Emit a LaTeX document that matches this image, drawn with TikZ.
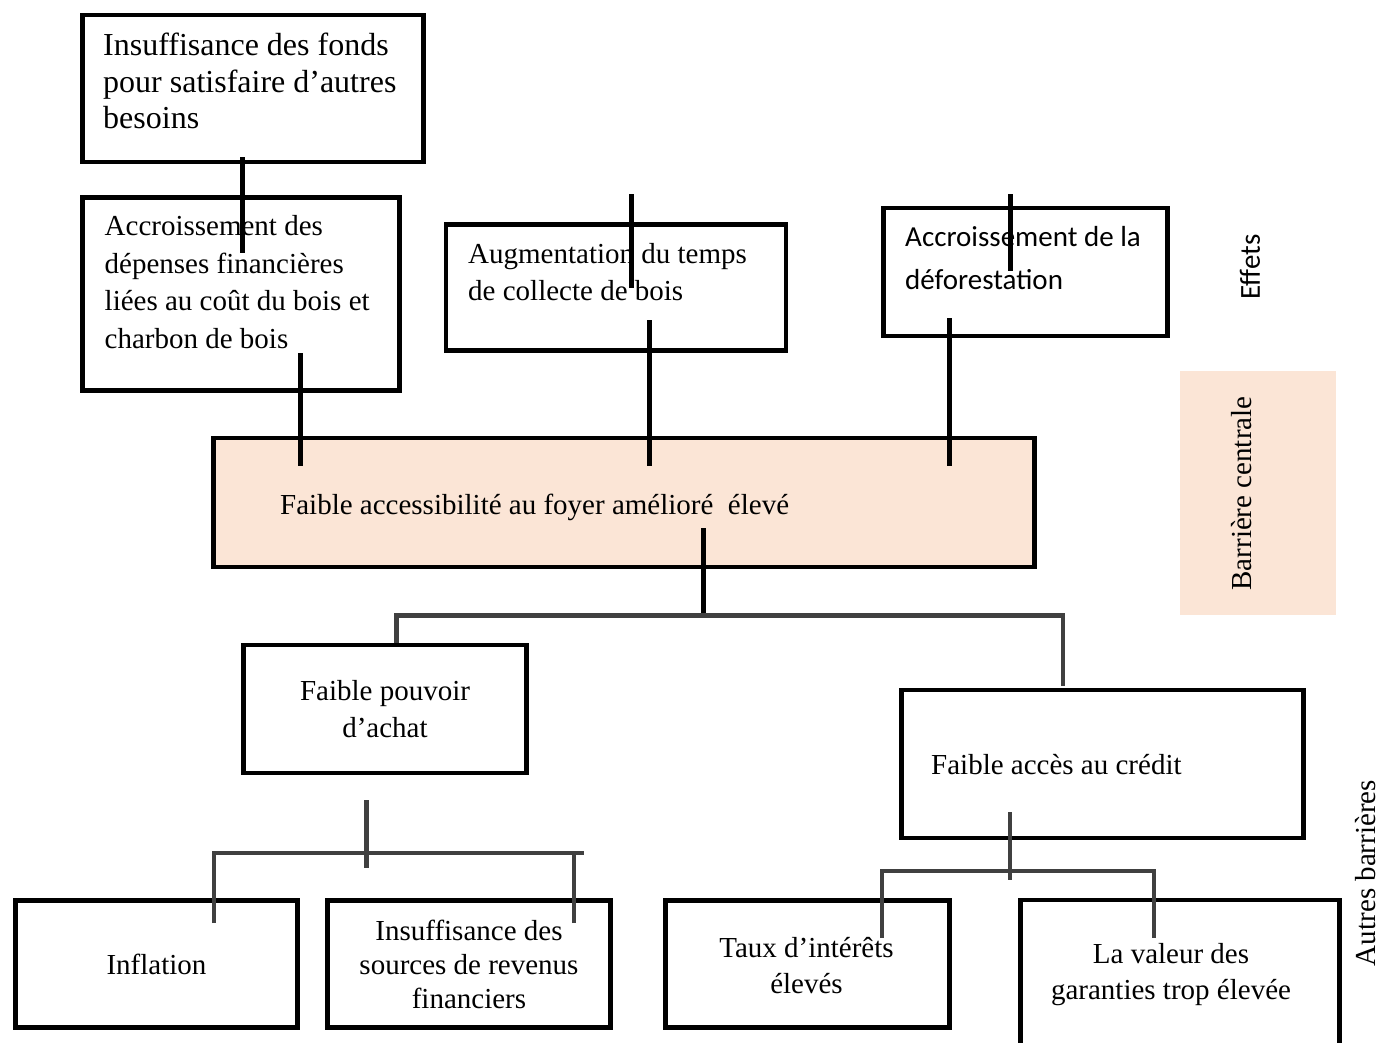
\documentclass[tikz,border=0pt]{standalone}
\usepackage{fontspec}
\setmainfont{Liberation Serif}
\newfontfamily\calibri{Carlito}
\definecolor{peche}{HTML}{FBE5D6}
\definecolor{grisfil}{HTML}{404040}
\tikzset{
  cadre/.style 2 args={draw, line width=4.8pt, minimum width=#1, minimum height=#2, inner sep=0pt, outer sep=0pt},
  texte/.style={inner sep=0pt, font=\fontsize{29}{37}\selectfont},
  trait/.style={line width=5pt},
  branche/.style={draw=grisfil, line width=4.5pt},
}
\begin{document}
\begin{tikzpicture}[x=1pt,y=-1pt]
  \useasboundingbox (0,0) rectangle (1381,1042);
  % bande de la barriere centrale
  \node[fill=peche, minimum width=156pt, minimum height=244pt, inner sep=0pt] (bande) at (1258,493) {};
  % cadres des effets
  \node[cadre={341pt}{147pt}] (fonds) at (253,88.5) {};
  \node[cadre={317pt}{193pt}] (depenses) at (241,294) {};
  \node[cadre={340pt}{126pt}] (temps) at (616,287.5) {};
  \node[cadre={284pt}{128pt}] (defor) at (1025.5,272) {};
  % barriere centrale
  \node[cadre={821pt}{129pt}, fill=peche] (centre) at (624,502.5) {};
  % autres barrieres
  \node[cadre={283pt}{128pt}, texte, align=center] (pouvoir) at (385,709) {Faible pouvoir\\d’achat};
  \node[cadre={402pt}{148pt}] (credit) at (1102.5,764) {};
  \node[cadre={282pt}{127pt}, texte] (inflation) at (156.5,964) {Inflation};
  \node[cadre={283pt}{127pt}, texte, align=center, font=\fontsize{29}{34}\selectfont] (sources) at (469,964) {Insuffisance des\\sources de revenus\\financiers};
  \node[cadre={284pt}{127pt}] (taux) at (807.5,964) {};
  \node[cadre={319pt}{160pt}] (valeur) at (1180,980) {};
  % textes
  \node[texte, anchor=north west, align=left, font=\fontsize{32}{36.5}\selectfont] (t-fonds) at (103,33) {Insuffisance des fonds\\pour satisfaire d’autres\\besoins};
  \node[texte, anchor=north west, align=left, font=\fontsize{29}{37.7}\selectfont] (t-depenses) at (104.5,215) {Accroissement des\\dépenses financières\\liées au coût du bois et\\charbon de bois};
  \node[texte, anchor=north west, align=left] (t-temps) at (468,243) {Augmentation du temps\\de collecte de bois};
  \node[texte, anchor=north west, align=left, font=\calibri\fontsize{29}{43}\selectfont] (t-defor) at (905,226.5) {Accroissement de la\\déforestation};
  \node[texte, anchor=base west] (t-centre) at (280,514) {Faible accessibilité au foyer amélioré\ \ élevé};
  \node[texte, anchor=base west] (t-credit) at (931,774) {Faible accès au crédit};
  \node[texte, align=center, font=\fontsize{29}{36}\selectfont] (t-taux) at (806.5,966) {Taux d’intérêts\\élevés};
  \node[texte, align=center, font=\fontsize{29}{36}\selectfont] (t-valeur) at (1171,975) {La valeur des\\garanties trop élevée};
  \node[texte, rotate=90] (effets) at (1250,267) {\calibri Effets};
  \node[texte, rotate=90] (barriere) at (1242,493.5) {Barrière centrale};
  \node[texte, rotate=90] (autres) at (1366,873) {Autres barrières};
  % liens des effets
  \draw[trait] ([shift={(-10.5,-5)}]fonds.south) -- ([shift={(1.5,55.5)}]depenses.north);
  \draw[trait] ([shift={(59.5,-37.5)}]depenses.south) -- ([shift={(-323.5,28)}]centre.north);
  \draw[trait] ([shift={(33.5,-30.5)}]temps.south) -- ([shift={(25.5,28)}]centre.north);
  \draw[trait] ([shift={(-76,-18)}]defor.south) -- ([shift={(325.5,28)}]centre.north);
  \draw[trait] ([shift={(15.5,-30.5)}]temps.north) -- ([shift={(15.5,63.5)}]temps.north);
  \draw[trait] ([shift={(-15,-14)}]defor.north) -- ([shift={(-15,63)}]defor.north);
  % liens des autres barrieres
  \draw[trait] ([shift={(79.5,-39)}]centre.south) -- ([shift={(79.5,48.5)}]centre.south) coordinate (j1);
  \draw[branche] ([shift={(11.5,-2)}]pouvoir.north) |- (j1) -| ([shift={(-39.5,-4)}]credit.north);
  \draw[branche] ([shift={(-18.5,27)}]pouvoir.south) -- ([shift={(-18.5,95)}]pouvoir.south);
  \draw[branche] ([shift={(57.5,22.5)}]inflation.north) |- ([shift={(115,-47.5)}]sources.north);
  \draw[branche] ([shift={(105,22.5)}]sources.north) -- ([shift={(105,-47.5)}]sources.north);
  \draw[branche] ([shift={(-92.5,-26)}]credit.south) -- ([shift={(-92.5,42)}]credit.south);
  \draw[branche] ([shift={(74.5,37.5)}]taux.north) |- ([shift={(-26,-29)}]valeur.north) -- ([shift={(-26,38)}]valeur.north);
\end{tikzpicture}
\end{document}
